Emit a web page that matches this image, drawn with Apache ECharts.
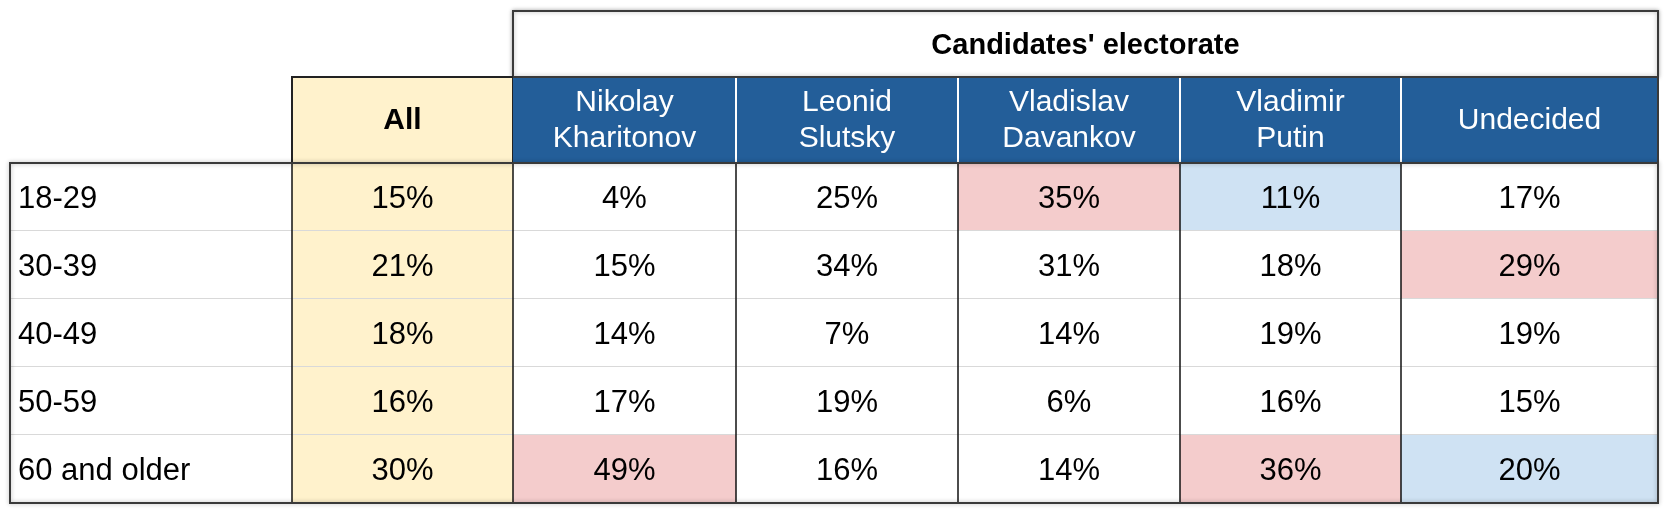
<!DOCTYPE html>
<html><head><meta charset="utf-8">
<script src="https://cdn.jsdelivr.net/npm/echarts@6/dist/echarts.min.js"></script>
<style>html,body{margin:0;padding:0;background:#fff}#c{width:1672px;height:514px}</style>
</head><body><div id="c"></div>
<script>
const groupTitle = "Candidates' electorate";
const columns = ['All', 'Nikolay\nKharitonov', 'Leonid\nSlutsky', 'Vladislav\nDavankov', 'Vladimir\nPutin', 'Undecided'];
const ageGroups = ['18-29', '30-39', '40-49', '50-59', '60 and older'];
const allVoters   = [15, 21, 18, 16, 30];
const kharitonov  = [4, 15, 14, 17, 49];
const slutsky     = [25, 34, 7, 19, 16];
const davankov    = [35, 31, 14, 6, 14];
const putin       = [11, 18, 19, 16, 36];
const undecided   = [17, 29, 19, 15, 20];
const highHigh = [[3,0],[5,1],[1,4],[4,4]]; // [column index in columns, row] pink
const highLow  = [[4,0],[5,4]];             // light blue

// layout (pixels within the chart, separate from data)
const colEdges = [0, 282, 503, 726, 948, 1170, 1391, 1648];
const rowEdges = [11, 77, 163, 231, 299, 367, 435, 503];
const FONT = 'Liberation Sans, Arial, sans-serif';
const series = [allVoters, kharitonov, slutsky, davankov, putin, undecided];

const data = [];
data.push({value: [-1, -1], kind: 'title'});
columns.forEach((c, i) => data.push({value: [i + 1, -1], kind: 'head'}));
ageGroups.forEach((g, r) => {
  data.push({value: [0, r], kind: 'label'});
  series.forEach((s, i) => data.push({value: [i + 1, r], kind: 'cell'}));
});
data.push({value: [-2, -2], kind: 'border'});

function isIn(list, c, r) { return list.some(p => p[0] === c && p[1] === r); }

function renderItem(params, api) {
  const item = data[params.dataIndex];
  const c = item.value[0], r = item.value[1];
  const P = (x, y) => api.coord([x, y]);
  if (item.kind === 'title') {
    const a = P(colEdges[2], rowEdges[0]), b = P(colEdges[7], rowEdges[1]);
    return {type: 'group', children: [
      {type: 'rect', shape: {x: a[0], y: a[1], width: b[0]-a[0], height: b[1]-a[1]},
       style: {fill: '#fff', stroke: '#3a3a3a', lineWidth: 2, shadowBlur: 4, shadowColor: 'rgba(0,0,0,0.3)'}},
      {type: 'text', x: (a[0]+b[0])/2, y: (a[1]+b[1])/2 + 2,
       style: {text: groupTitle, font: 'bold 29px ' + FONT, fill: '#000', align: 'center', verticalAlign: 'middle'}}
    ]};
  }
  if (item.kind === 'head') {
    const a = P(colEdges[c], rowEdges[1]), b = P(colEdges[c+1], rowEdges[2]);
    const isAll = c === 1;
    const ch = [
      {type: 'rect', shape: {x: a[0], y: a[1], width: b[0]-a[0], height: b[1]-a[1]},
       style: {fill: isAll ? '#fff2cc' : '#235e99', stroke: null}},
      {type: 'text', x: (a[0]+b[0])/2, y: (a[1]+b[1])/2 + 1,
       style: {text: columns[c-1], font: (isAll ? 'bold ' : '') + '30px ' + FONT, lineHeight: 36,
               fill: isAll ? '#000' : '#fff', align: 'center', verticalAlign: 'middle'}}
    ];
    if (c > 2) ch.push({type: 'line', shape: {x1: a[0], y1: a[1], x2: a[0], y2: b[1]}, style: {stroke: '#fff', lineWidth: 2}});
    if (isAll) ch.push({type: 'rect', shape: {x: a[0], y: a[1], width: b[0]-a[0], height: b[1]-a[1]},
       style: {fill: null, stroke: '#222', lineWidth: 2}});
    return {type: 'group', children: ch};
  }
  if (item.kind === 'label' || item.kind === 'cell') {
    const a = P(colEdges[c], rowEdges[r+2]), b = P(colEdges[c+1], rowEdges[r+3]);
    let fill = '#fff';
    if (c === 1) fill = '#fff2cc';
    if (isIn(highHigh, c - 1, r)) fill = '#f4cccc';
    if (isIn(highLow, c - 1, r)) fill = '#cfe2f3';
    const text = item.kind === 'label' ? ageGroups[r] : series[c-1][r] + '%';
    const ch = [
      {type: 'rect', shape: {x: a[0], y: a[1], width: b[0]-a[0], height: b[1]-a[1]}, style: {fill: fill}},
      {type: 'text', x: item.kind === 'label' ? a[0] + 8 : (a[0]+b[0])/2, y: (a[1]+b[1])/2 + 2,
       style: {text: text, font: '31px ' + FONT, fill: '#000', align: item.kind === 'label' ? 'left' : 'center', verticalAlign: 'middle'}}
    ];
    if (r < ageGroups.length - 1) ch.push({type: 'line', shape: {x1: a[0], y1: b[1], x2: b[0], y2: b[1]}, style: {stroke: '#d9d9d9', lineWidth: 2}});
    if (c > 0) ch.push({type: 'line', shape: {x1: a[0], y1: a[1], x2: a[0], y2: b[1]}, style: {stroke: '#111', lineWidth: 1.5}});
    return {type: 'group', children: ch};
  }
  if (item.kind === 'border') {
    const a = P(colEdges[0], rowEdges[2]), b = P(colEdges[7], rowEdges[7]);
    const h = P(colEdges[2], rowEdges[1]);
    return {type: 'group', children: [
      {type: 'rect', shape: {x: a[0], y: a[1], width: b[0]-a[0], height: b[1]-a[1]},
       style: {fill: null, stroke: '#3a3a3a', lineWidth: 2, shadowBlur: 4, shadowColor: 'rgba(0,0,0,0.3)'}},
      {type: 'line', shape: {x1: h[0], y1: h[1], x2: b[0], y2: h[1]}, style: {stroke: '#3a3a3a', lineWidth: 2}},
      {type: 'line', shape: {x1: b[0], y1: h[1], x2: b[0], y2: a[1]}, style: {stroke: '#3a3a3a', lineWidth: 2}}
    ]};
  }
}

const chart = echarts.init(document.getElementById('c'));
chart.setOption({
  animation: false,
  grid: {left: 10, top: 0, width: 1648, height: 514},
  xAxis: {type: 'value', min: 0, max: 1648, show: false},
  yAxis: {type: 'value', min: 0, max: 514, inverse: true, show: false},
  series: [{type: 'custom', renderItem: renderItem, data: data.map(d => d.value), clip: false}]
});
</script></body></html>
